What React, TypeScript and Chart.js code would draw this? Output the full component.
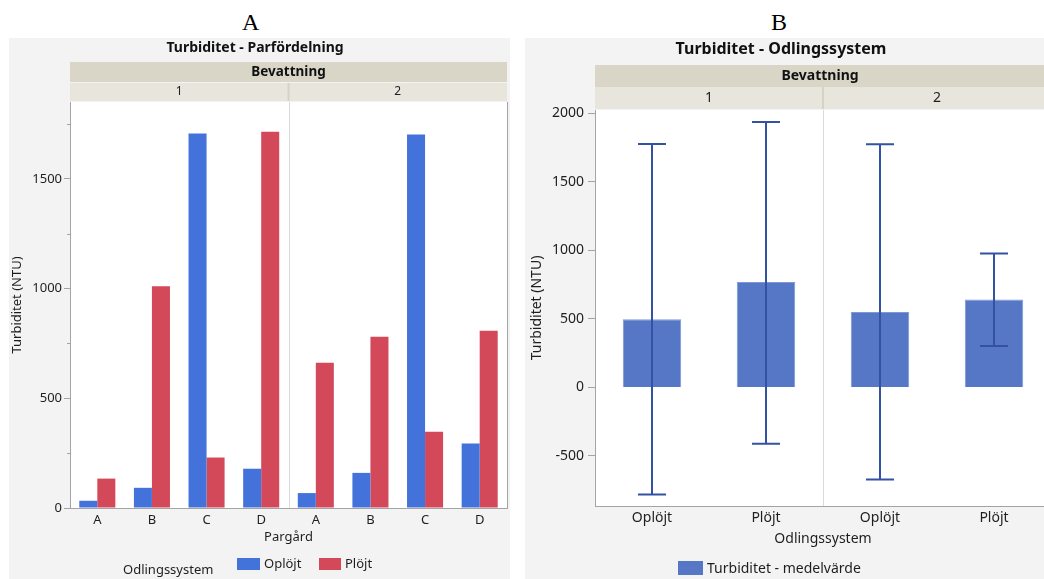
import React, { useEffect, useRef } from 'react';
import { Chart, registerables } from 'chart.js';

Chart.register(...registerables);

const FONT = '"Noto Sans", "Open Sans", sans-serif';
const TEXT = '#1e1e1e';
const AXIS = '#a4a4a4';

// Panel A – Turbiditet per Pargård
const pargardLabels = ['A', 'B', 'C', 'D', 'A', 'B', 'C', 'D'];
const bevattningGroups = ['1', '2'];
const oplojtValues = [33, 92, 1707, 179, 68, 160, 1702, 294];
const plojtValues = [134, 1010, 230, 1714, 662, 780, 347, 808];
const yMajorTicksA = [0, 500, 1000, 1500];
const yMinorTicksA = [250, 750, 1250, 1750];

// Panel B – Turbiditet per Odlingssystem (mean with error bars)
const systemLabels = ['Oplöjt', 'Plöjt', 'Oplöjt', 'Plöjt'];
const meanValues = [497, 770, 551, 642];
const errorLow = [-781, -411, -671, 303];
const errorHigh = [1777, 1938, 1775, 978];
const yTicksB = [-500, 0, 500, 1000, 1500, 2000];

const plainNumber = (v: any) => String(v);

const panelDecor = {
  id: 'panelDecor',
  beforeDraw(chart: any, _args: any, o: any) {
    const { ctx, chartArea: ca, width, height } = chart;
    ctx.save();
    ctx.fillStyle = '#f3f3f3';
    ctx.fillRect(0, 0, width, height);
    ctx.fillStyle = '#ffffff';
    ctx.fillRect(ca.left, ca.top, ca.right - ca.left, ca.bottom - ca.top);
    // title
    ctx.fillStyle = '#111';
    ctx.font = `bold ${o.titleSize}px ${FONT}`;
    ctx.textAlign = 'center';
    ctx.textBaseline = 'middle';
    ctx.fillText(o.title, o.titleX ?? (ca.left + ca.right) / 2, ca.top + o.titleY);
    // header band
    ctx.fillStyle = '#d9d6c8';
    ctx.fillRect(ca.left, ca.top + o.band1Top, ca.right - ca.left, o.band1H);
    ctx.fillStyle = '#e7e5dc';
    ctx.fillRect(ca.left, ca.top + o.band2Top, ca.right - ca.left, o.band2H);
    const xs = chart.scales.x;
    const divX = (xs.getPixelForValue(o.split - 1) + xs.getPixelForValue(o.split)) / 2;
    ctx.fillStyle = '#d6d3c5';
    ctx.fillRect(divX - 1, ca.top + o.band2Top, 2, o.band2H);
    ctx.fillStyle = '#111';
    ctx.font = `bold ${o.headerSize}px ${FONT}`;
    ctx.fillText(o.header, (ca.left + ca.right) / 2 + (o.headerDx || 0), ca.top + o.band1Top + o.band1H / 2);
    ctx.font = `${o.groupSize}px ${FONT}`;
    ctx.fillStyle = TEXT;
    const groupCenters = [(ca.left + divX) / 2, (divX + ca.right) / 2];
    o.groups.forEach((g: string, i: number) => {
      ctx.fillText(g, groupCenters[i], ca.top + o.band2Top + o.band2H / 2);
    });
    // divider in plot
    ctx.strokeStyle = '#dadada';
    ctx.lineWidth = 1;
    ctx.beginPath();
    ctx.moveTo(Math.round(divX) + 0.5, ca.top);
    ctx.lineTo(Math.round(divX) + 0.5, ca.bottom);
    ctx.stroke();
    ctx.restore();
  },
  afterDraw(chart: any, _args: any, o: any) {
    const { ctx, chartArea: ca } = chart;
    ctx.save();
    ctx.strokeStyle = AXIS;
    ctx.lineWidth = 1;
    if (o.frameRight) {
      ctx.beginPath();
      ctx.moveTo(Math.round(ca.right) + 0.5, ca.top);
      ctx.lineTo(Math.round(ca.right) + 0.5, ca.bottom);
      ctx.stroke();
    }
    if (o.minorTicks) {
      const ys = chart.scales.y;
      o.minorTicks.forEach((v: number) => {
        const y = Math.round(ys.getPixelForValue(v)) + 0.5;
        ctx.beginPath();
        ctx.moveTo(ca.left - 3, y);
        ctx.lineTo(ca.left, y);
        ctx.stroke();
      });
    }
    ctx.restore();
  },
};

const errorBars = {
  id: 'errorBars',
  afterDatasetsDraw(chart: any, _args: any, o: any) {
    if (!o || !o.low) return;
    const { ctx } = chart;
    const xs = chart.scales.x;
    const ys = chart.scales.y;
    ctx.save();
    ctx.strokeStyle = o.color;
    ctx.lineWidth = o.width;
    o.low.forEach((lo: number, i: number) => {
      const x = xs.getPixelForValue(i);
      const yl = ys.getPixelForValue(lo);
      const yh = ys.getPixelForValue(o.high[i]);
      ctx.beginPath();
      ctx.moveTo(x, yl);
      ctx.lineTo(x, yh);
      ctx.moveTo(x - o.cap / 2, yl);
      ctx.lineTo(x + o.cap / 2, yl);
      ctx.moveTo(x - o.cap / 2, yh);
      ctx.lineTo(x + o.cap / 2, yh);
      ctx.stroke();
    });
    ctx.restore();
  },
};

function PanelA() {
  const ref = useRef<HTMLCanvasElement | null>(null);
  useEffect(() => {
    if (!ref.current) return;
    const chart = new Chart(ref.current, {
      type: 'bar',
      data: {
        labels: pargardLabels,
        datasets: [
          {
            label: 'Oplöjt',
            data: oplojtValues,
            backgroundColor: '#4472DB',
            borderWidth: 0,
            categoryPercentage: 0.66,
            barPercentage: 1,
          },
          {
            label: 'Plöjt',
            data: plojtValues,
            backgroundColor: '#D3495A',
            borderWidth: 0,
            categoryPercentage: 0.66,
            barPercentage: 1,
          },
        ],
      },
      options: {
        responsive: false,
        maintainAspectRatio: false,
        animation: false,
        layout: { padding: { top: 64, right: 3, bottom: 32, left: 0 } },
        plugins: {
          legend: { display: false },
          tooltip: { enabled: false },
          panelDecor: {
            title: 'Turbiditet - Parfördelning',
            titleSize: 14,
            titleY: -54,
            titleX: 246,
            header: 'Bevattning',
            headerSize: 13.5,
            groupSize: 12,
            band1Top: -40,
            band1H: 20,
            band2Top: -19,
            band2H: 18,
            groups: bevattningGroups,
            split: 4,
            frameRight: true,
            minorTicks: yMinorTicksA,
          },
        } as any,
        scales: {
          x: {
            grid: { display: false, drawTicks: false },
            border: { color: AXIS },
            ticks: { padding: 4, color: TEXT, font: { family: FONT, size: 13 } },
            title: {
              display: true,
              text: 'Pargård',
              color: TEXT,
              font: { family: FONT, size: 13 },
              padding: { top: 0, bottom: 2 },
            },
            afterFit: (s: any) => {
              s.height = 39;
            },
          },
          y: {
            min: 0,
            max: 1850,
            afterBuildTicks: (s: any) => {
              s.ticks = yMajorTicksA.map((v) => ({ value: v }));
            },
            grid: { drawOnChartArea: false, tickLength: 6, tickColor: AXIS },
            border: { color: AXIS },
            ticks: { padding: 2, color: TEXT, font: { family: FONT, size: 13 }, callback: plainNumber },
            title: {
              display: true,
              text: 'Turbiditet (NTU)',
              color: TEXT,
              font: { family: FONT, size: 13 },
              padding: { top: 0, bottom: 0 },
            },
            afterFit: (s: any) => {
              s.width = 61;
            },
          },
        },
      } as any,
      plugins: [panelDecor],
    });
    return () => chart.destroy();
  }, []);
  return <canvas ref={ref} width={501} height={541} style={{ position: 'absolute', left: 9, top: 38 }} />;
}

function PanelB() {
  const ref = useRef<HTMLCanvasElement | null>(null);
  useEffect(() => {
    if (!ref.current) return;
    const chart = new Chart(ref.current, {
      type: 'bar',
      data: {
        labels: systemLabels,
        datasets: [
          {
            label: 'Turbiditet - medelvärde',
            data: meanValues,
            backgroundColor: '#5677C6',
            borderColor: '#7e97d6',
            borderWidth: 1,
            categoryPercentage: 0.513,
            barPercentage: 1,
          },
        ],
      },
      options: {
        responsive: false,
        maintainAspectRatio: false,
        animation: false,
        layout: { padding: { top: 72, right: 9, bottom: 30, left: 0 } },
        plugins: {
          legend: { display: false },
          tooltip: { enabled: false },
          panelDecor: {
            title: 'Turbiditet - Odlingssystem',
            titleSize: 16,
            titleY: -61,
            titleX: 256,
            header: 'Bevattning',
            headerDx: -3,
            headerSize: 14,
            groupSize: 14,
            band1Top: -45,
            band1H: 22,
            band2Top: -23,
            band2H: 22,
            groups: bevattningGroups,
            split: 2,
            frameRight: false,
          },
          errorBars: {
            low: errorLow,
            high: errorHigh,
            color: '#3452A3',
            width: 2,
            cap: 28,
          },
        } as any,
        scales: {
          x: {
            grid: { display: false, drawTicks: false },
            border: { color: AXIS },
            ticks: { padding: 4, color: TEXT, font: { family: FONT, size: 14 } },
            title: {
              display: true,
              text: 'Odlingssystem',
              color: TEXT,
              font: { family: FONT, size: 14 },
              padding: { top: 0, bottom: 2 },
            },
            afterFit: (s: any) => {
              s.height = 43;
            },
          },
          y: {
            min: -865,
            max: 2025,
            afterBuildTicks: (s: any) => {
              s.ticks = yTicksB.map((v) => ({ value: v }));
            },
            grid: { drawOnChartArea: false, tickLength: 7, tickColor: AXIS },
            border: { color: AXIS },
            ticks: { padding: 4, color: TEXT, font: { family: FONT, size: 14 }, callback: plainNumber },
            title: {
              display: true,
              text: 'Turbiditet (NTU)',
              color: TEXT,
              font: { family: FONT, size: 14 },
              padding: { top: 4, bottom: 0 },
            },
            afterFit: (s: any) => {
              s.width = 70;
            },
          },
        },
      } as any,
      plugins: [panelDecor, errorBars],
    });
    return () => chart.destroy();
  }, []);
  return <canvas ref={ref} width={535} height={541} style={{ position: 'absolute', left: 525, top: 38 }} />;
}

const abs = (l: number, t: number, extra: React.CSSProperties = {}): React.CSSProperties => ({
  position: 'absolute',
  left: l,
  top: t,
  ...extra,
});

export default function App() {
  const sans = { fontFamily: FONT, color: TEXT, whiteSpace: 'nowrap' as const, lineHeight: 1 };
  return (
    <div
      style={{
        position: 'absolute',
        left: 0,
        top: 0,
        width: 1044,
        height: 579,
        overflow: 'hidden',
        background: '#ffffff',
      }}
    >
      <div style={abs(242, 10, { fontFamily: '"Liberation Serif", "DejaVu Serif", serif', fontSize: 24, lineHeight: 1, color: '#000' })}>A</div>
      <div style={abs(771, 10, { fontFamily: '"Liberation Serif", "DejaVu Serif", serif', fontSize: 24, lineHeight: 1, color: '#000' })}>B</div>
      <PanelA />
      <PanelB />
      {/* Legend panel A */}
      <div style={abs(123, 563, { ...sans, fontSize: 13 })}>Odlingssystem</div>
      <div style={abs(237, 558, { width: 23, height: 12, background: '#4472DB' })} />
      <div style={abs(264, 557, { ...sans, fontSize: 13 })}>Oplöjt</div>
      <div style={abs(319, 558, { width: 22, height: 12, background: '#D3495A' })} />
      <div style={abs(345, 557, { ...sans, fontSize: 13 })}>Plöjt</div>
      {/* Legend panel B */}
      <div style={abs(678, 561, { width: 25, height: 14, background: '#5677C6' })} />
      <div style={abs(707, 561, { ...sans, fontSize: 14 })}>Turbiditet - medelvärde</div>
    </div>
  );
}
